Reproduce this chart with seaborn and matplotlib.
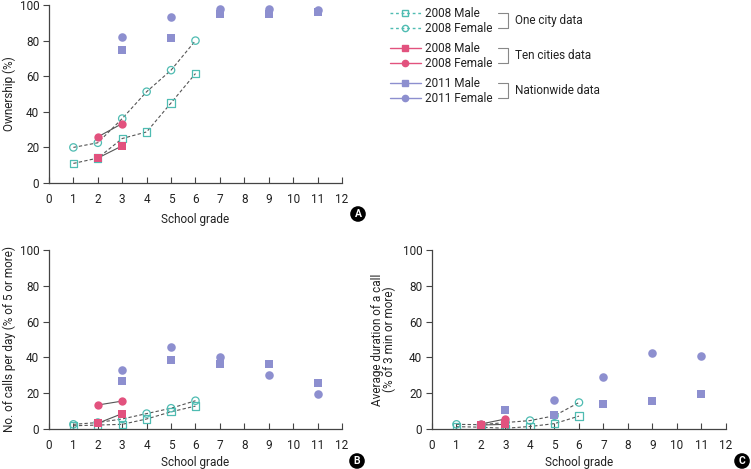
"""Mobile phone use by school grade: ownership, calls per day, call duration."""

import matplotlib.pyplot as plt
import pandas as pd
import seaborn as sns
from matplotlib.lines import Line2D

# ---- data ----
one_city_grades = [1, 2, 3, 4, 5, 6]
ten_cities_grades = [2, 3]
nationwide_grades = [3, 5, 7, 9, 11]

# panel A: ownership (%)
own_one_male = [11, 14, 25, 28.7, 45, 61.5]
own_one_female = [20, 22.6, 36.2, 51.3, 63.4, 80]
own_ten_male = [14, 20.9]
own_ten_female = [25.9, 33.4]
own_nat_male = [74.5, 81.7, 94.8, 95.2, 96]
own_nat_female = [82, 93, 97.6, 97.8, 97]

# panel B: calls per day (% of 5 or more)
calls_one_male = [1.8, 2.2, 2.6, 5.6, 9.6, 12.8]
calls_one_female = [2.6, 3.6, 5.6, 8.6, 11.6, 15.8]
calls_ten_male = [3.2, 8.6]
calls_ten_female = [13.4, 15.6]
calls_nat_male = [27, 38.6, 36.4, 36.2, 25.7]
calls_nat_female = [33, 45.7, 40.1, 30, 19.4]

# panel C: average duration of a call (% of 3 min or more)
dur_one_male = [1.3, 1.0, 0.4, 1.4, 3.0, 7.2]
dur_one_female = [2.6, 2.4, 3.6, 4.7, 7.4, 14.8]
dur_ten_male = [2.2, 2.6]
dur_ten_female = [2.8, 5.6]
dur_nat_male = [10.8, 8.0, 14.0, 15.9, 19.8]
dur_nat_female = [None, 16.4, 29.3, 42.2, 41.0]

x_ticks = list(range(0, 13))
y_ticks = [0, 20, 40, 60, 80, 100]

TEAL = "#4fbcb2"
PINK = "#e2527e"
BLUE = "#8d8fcf"
LINE = "#555555"
INK = "#222222"
FS = 8.5

sns.set_theme(style="ticks")
plt.rcParams["font.family"] = ["Roboto", "DejaVu Sans"]
plt.rcParams["font.size"] = FS

fig = plt.figure(figsize=(7.51, 4.69), dpi=100)
ax_a = fig.add_axes([0.0652, 0.6098, 0.3902, 0.3795])
ax_b = fig.add_axes([0.0652, 0.0853, 0.3902, 0.3817])
ax_c = fig.add_axes([0.5752, 0.0853, 0.3915, 0.3817])


def draw_panel(ax, one_m, one_f, ten_m, ten_f, nat_m, nat_f, xlabel_y):
    one = pd.DataFrame({"grade": one_city_grades, "male": one_m, "female": one_f})
    ten = pd.DataFrame({"grade": ten_cities_grades, "male": ten_m, "female": ten_f})
    nat = pd.DataFrame({"grade": nationwide_grades, "male": nat_m, "female": nat_f})

    for col in ["male", "female"]:
        sns.lineplot(data=one, x="grade", y=col, ax=ax, color=LINE,
                     linestyle=(0, (3, 2)), linewidth=0.8)
        sns.lineplot(data=ten, x="grade", y=col, ax=ax, color=LINE, linewidth=0.8)

    sns.scatterplot(data=one, x="grade", y="male", ax=ax, marker="s", s=28,
                    facecolor="none", edgecolor=TEAL, linewidth=0.9, zorder=3)
    sns.scatterplot(data=one, x="grade", y="female", ax=ax, marker="o", s=28,
                    facecolor="none", edgecolor=TEAL, linewidth=0.9, zorder=3)
    sns.scatterplot(data=ten, x="grade", y="male", ax=ax, marker="s", s=32,
                    color=PINK, linewidth=0, zorder=4)
    sns.scatterplot(data=ten, x="grade", y="female", ax=ax, marker="o", s=36,
                    color=PINK, linewidth=0, zorder=4)
    sns.scatterplot(data=nat.dropna(subset=["male"]), x="grade", y="male", ax=ax,
                    marker="s", s=34, color=BLUE, linewidth=0, zorder=4)
    sns.scatterplot(data=nat.dropna(subset=["female"]), x="grade", y="female", ax=ax,
                    marker="o", s=38, color=BLUE, linewidth=0, zorder=4)

    ax.set_xlim(0, 12)
    ax.set_ylim(0, 100)
    ax.set_xticks(x_ticks)
    ax.set_yticks(y_ticks)
    ax.set_xlabel("School grade", fontsize=FS, color=INK)
    ax.xaxis.set_label_coords(0.5, xlabel_y)
    ax.tick_params(axis="x", direction="in", length=4, width=0.8, colors="#444444",
                   labelcolor=INK, labelsize=FS, pad=7)
    ax.tick_params(axis="y", direction="out", length=4, width=0.8, colors="#444444",
                   labelcolor=INK, labelsize=FS, pad=3)
    for side in ["left", "bottom"]:
        ax.spines[side].set_color("#444444")
        ax.spines[side].set_linewidth(0.9)
    sns.despine(ax=ax)


draw_panel(ax_a, own_one_male, own_one_female, own_ten_male, own_ten_female,
           own_nat_male, own_nat_female, -0.17)
draw_panel(ax_b, calls_one_male, calls_one_female, calls_ten_male, calls_ten_female,
           calls_nat_male, calls_nat_female, -0.15)
draw_panel(ax_c, dur_one_male, dur_one_female, dur_ten_male, dur_ten_female,
           dur_nat_male, dur_nat_female, -0.15)

ax_a.set_ylabel("Ownership (%)", fontsize=FS, color=INK, va="center")
ax_a.yaxis.set_label_coords(-0.135, 0.5)
ax_b.set_ylabel("No. of calls per day (% of 5 or more)", fontsize=FS, color=INK,
                va="center")
ax_b.yaxis.set_label_coords(-0.135, 0.5)
ax_c.set_ylabel("Average duration of a call\n(% of 3 min or more)", fontsize=FS,
                color=INK, linespacing=0.95, va="center")
ax_c.yaxis.set_label_coords(-0.165, 0.5)

# panel badges
for label, (bx, by) in zip(["A", "B", "C"], [(358, 214), (357, 461), (742, 461)]):
    fig.text(bx / 751, 1 - by / 469, label, ha="center", va="center", color="white",
             fontsize=7.5, fontweight="bold",
             bbox=dict(boxstyle="circle,pad=0.2", fc="black", ec="black"))

# grouped legend
groups = [
    ("One city data", TEAL, "none", (0, (2, 2)), 13),
    ("Ten cities data", PINK, PINK, "-", 48),
    ("Nationwide data", BLUE, BLUE, "-", 83),
]
labels_by_group = [["2008 Male", "2008 Female"], ["2008 Male", "2008 Female"],
                   ["2011 Male", "2011 Female"]]
for (title, col, face, ls, top), labels in zip(groups, labels_by_group):
    handles = [
        Line2D([], [], color=col, linestyle=ls, linewidth=1.0, marker="s",
               markersize=4.5, markerfacecolor=face, markeredgecolor=col),
        Line2D([], [], color=col, linestyle=ls, linewidth=1.0, marker="o",
               markersize=4.5, markerfacecolor=face, markeredgecolor=col),
    ]
    leg = fig.legend(handles, labels, loc="upper left",
                     bbox_to_anchor=(390 / 751, 1 - (top - 6) / 469),
                     frameon=False, fontsize=FS, handlelength=2.6,
                     handletextpad=0.4, labelspacing=0.2, borderpad=0,
                     borderaxespad=0)
    for t in leg.get_texts():
        t.set_color(INK)
    y1 = 1 - top / 469
    y2 = 1 - (top + 15) / 469
    x1, x2 = 498 / 751, 508 / 751
    fig.add_artist(Line2D([x1, x2, x2, x1], [y1, y1, y2, y2], color="#888888",
                          linewidth=0.8, transform=fig.transFigure))
    fig.text(515 / 751, (y1 + y2) / 2, title, ha="left", va="center", fontsize=FS,
             color=INK)

fig.savefig("out.png", dpi=100)
